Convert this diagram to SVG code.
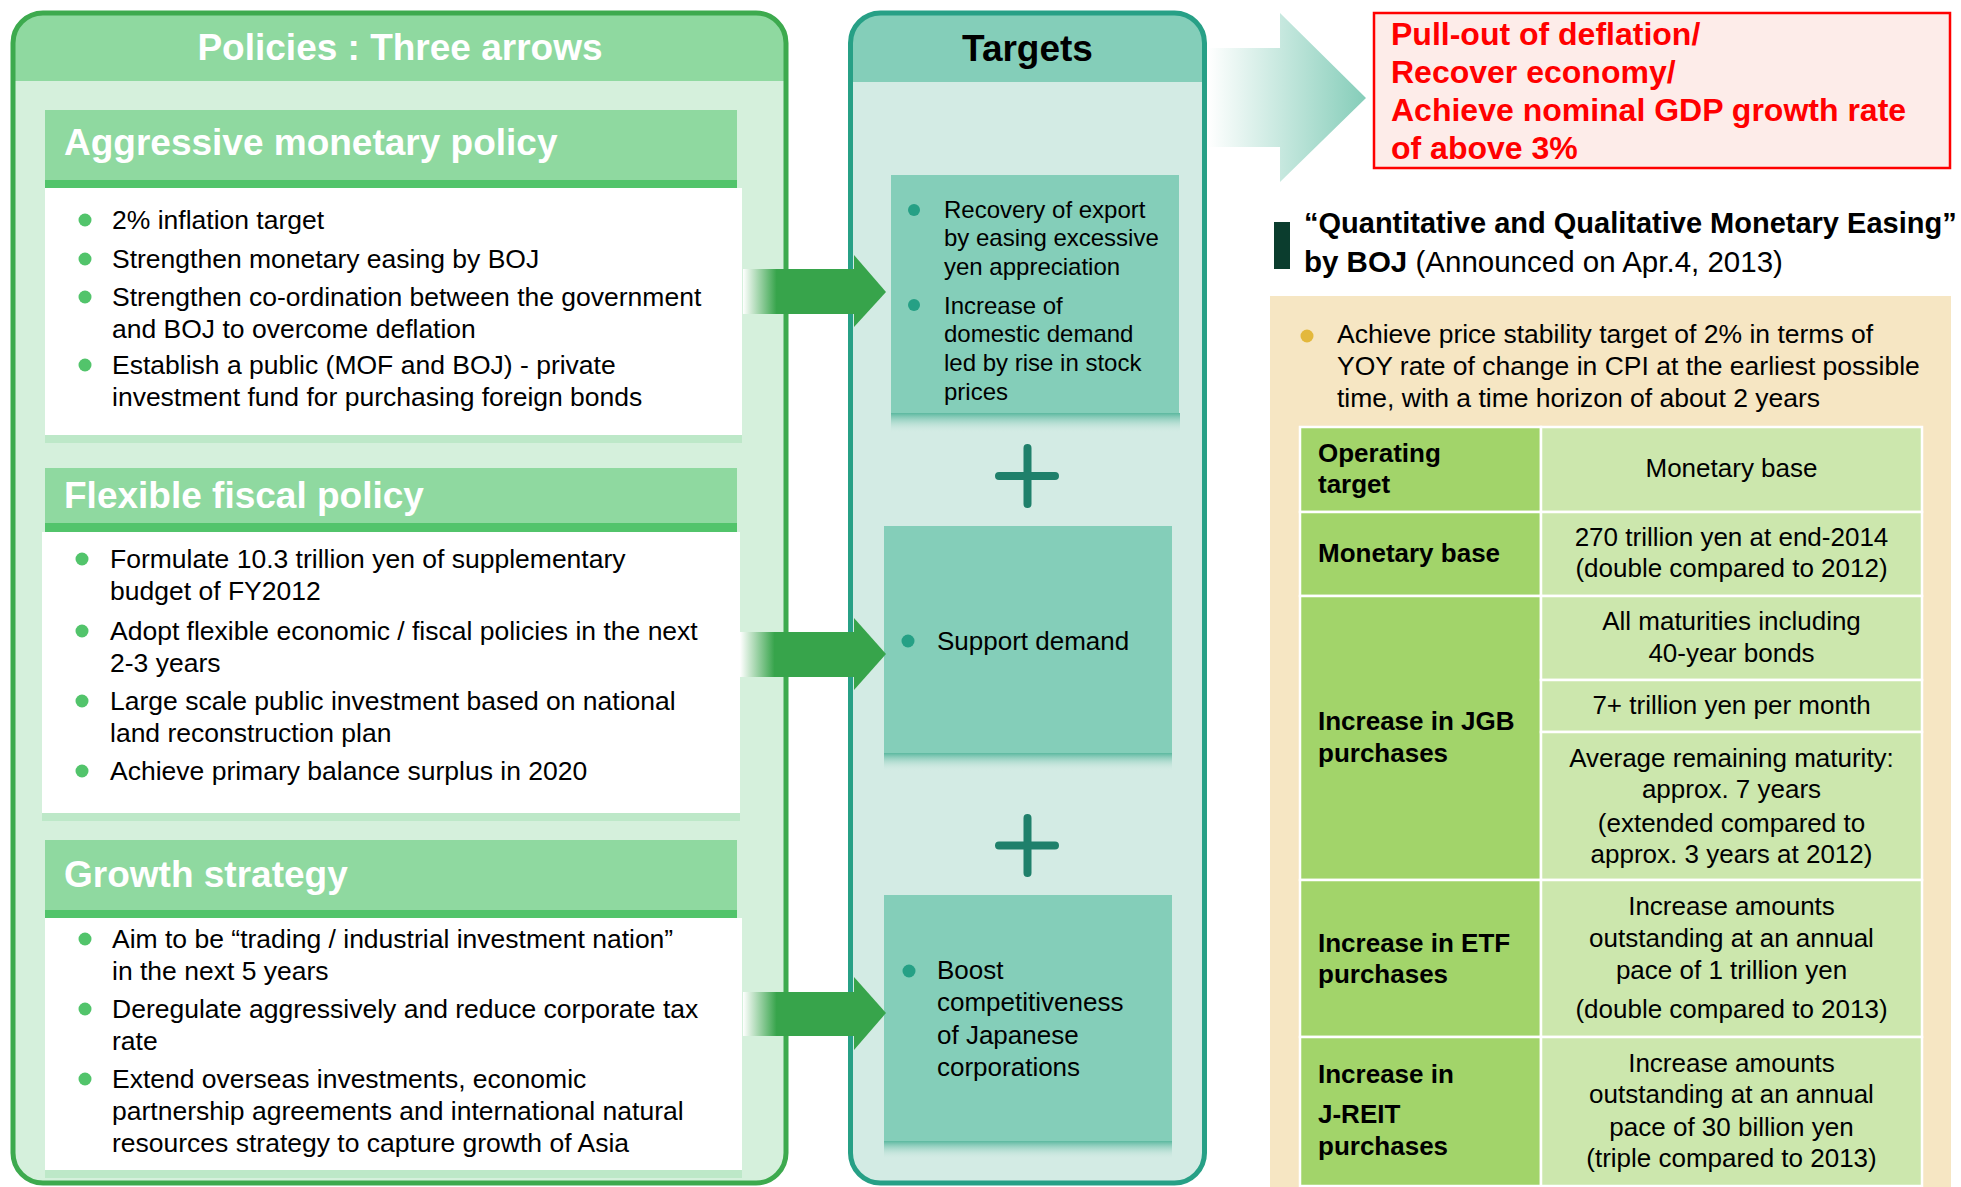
<svg xmlns="http://www.w3.org/2000/svg" width="1961" height="1187" viewBox="0 0 1961 1187">
<style>
text{font-family:"Liberation Sans",Arial,Helvetica,sans-serif;fill:#000}
.b26{font-size:26px}
.b265{font-size:26.5px}
.b24{font-size:24px}
.bold{font-weight:bold}
.hdr{font-size:37px;font-weight:bold;fill:#fff}
.red{font-size:32px;font-weight:bold;fill:#FF0000}
.mid{text-anchor:middle}
.dotg{fill:#52C46B}
.dott{fill:#26A085}
.hband{fill:#8FD9A0}
.hstripe{fill:#52C46B}
.wbox{fill:#fff}
.wstrip{fill:#BDE8C8}
.tbox{fill:#84CEB9}
.plus{stroke:#1F806B;stroke-width:8;stroke-linecap:round;fill:none}
.arr{fill:#37A44B}
.cl{fill:#A2D46A;stroke:#fff;stroke-width:2.5}
.cr{fill:#CCE7AD;stroke:#fff;stroke-width:2.5}
</style>
<defs>
<linearGradient id="fade" x1="0" y1="0" x2="1" y2="0">
<stop offset="0" stop-color="#fff"/>
<stop offset="0.3" stop-color="#37A44B"/>
<stop offset="1" stop-color="#37A44B"/>
</linearGradient>
<linearGradient id="bigfade" gradientUnits="userSpaceOnUse" x1="1208" y1="0" x2="1366" y2="0">
<stop offset="0" stop-color="#fff"/>
<stop offset="1" stop-color="#85CDB9"/>
</linearGradient>
<linearGradient id="shadow" x1="0" y1="0" x2="0" y2="1">
<stop offset="0" stop-color="#5BB89F"/>
<stop offset="1" stop-color="#D3EBE4" stop-opacity="0"/>
</linearGradient>
</defs>
<rect width="1961" height="1187" fill="#fff"/>

<g id="policies-frame">
<rect x="13" y="13" width="773" height="1170" rx="30" fill="#D5F0DC"/>
<path d="M13,81 V43 A30,30 0 0 1 43,13 H756 A30,30 0 0 1 786,43 V81 Z" fill="#8FD9A0"/>
<rect x="13" y="13" width="773" height="1170" rx="30" fill="none" stroke="#3DAA4E" stroke-width="5"/>
<text class="hdr mid" x="400" y="60">Policies : Three arrows</text>
</g>

<g id="monetary-policy">
<rect class="hband" x="45" y="110" width="692" height="70"/>
<rect class="hstripe" x="45" y="180" width="692" height="8"/>
<rect class="wbox" x="45" y="188" width="697" height="247"/>
<rect class="wstrip" x="45" y="435" width="697" height="8"/>
<text class="hdr" x="64" y="155">Aggressive monetary policy</text>
<circle class="dotg" cx="85" cy="220" r="6.5"/>
<circle class="dotg" cx="85" cy="259" r="6.5"/>
<circle class="dotg" cx="85" cy="297" r="6.5"/>
<circle class="dotg" cx="85" cy="365" r="6.5"/>
<text class="b265" x="112" y="229">2% inflation target</text>
<text class="b265" x="112" y="268">Strengthen monetary easing by BOJ</text>
<text class="b265" x="112" y="306">Strengthen co-ordination between the government</text>
<text class="b265" x="112" y="338">and BOJ to overcome deflation</text>
<text class="b265" x="112" y="374">Establish a public (MOF and BOJ) - private</text>
<text class="b265" x="112" y="406">investment fund for purchasing foreign bonds</text>
</g>

<g id="fiscal-policy">
<rect class="hband" x="45" y="468" width="692" height="55"/>
<rect class="hstripe" x="45" y="523" width="692" height="9"/>
<rect class="wbox" x="42" y="532" width="698" height="281"/>
<rect class="wstrip" x="42" y="813" width="698" height="8"/>
<text class="hdr" x="64" y="508">Flexible fiscal policy</text>
<circle class="dotg" cx="82" cy="559" r="6.5"/>
<circle class="dotg" cx="82" cy="631" r="6.5"/>
<circle class="dotg" cx="82" cy="701" r="6.5"/>
<circle class="dotg" cx="82" cy="771" r="6.5"/>
<text class="b265" x="110" y="568">Formulate 10.3 trillion yen of supplementary</text>
<text class="b265" x="110" y="600">budget of FY2012</text>
<text class="b265" x="110" y="640">Adopt flexible economic / fiscal policies in the next</text>
<text class="b265" x="110" y="672">2-3 years</text>
<text class="b265" x="110" y="710">Large scale public investment based on national</text>
<text class="b265" x="110" y="742">land reconstruction plan</text>
<text class="b265" x="110" y="780">Achieve primary balance surplus in 2020</text>
</g>

<g id="growth-strategy">
<rect class="hband" x="45" y="840" width="692" height="70"/>
<rect class="hstripe" x="45" y="910" width="692" height="8"/>
<rect class="wbox" x="45" y="918" width="697" height="252"/>
<rect class="wstrip" x="45" y="1170" width="697" height="8"/>
<text class="hdr" x="64" y="887">Growth strategy</text>
<circle class="dotg" cx="85" cy="939" r="6.5"/>
<circle class="dotg" cx="85" cy="1009" r="6.5"/>
<circle class="dotg" cx="85" cy="1079" r="6.5"/>
<text class="b265" x="112" y="948">Aim to be “trading / industrial investment nation”</text>
<text class="b265" x="112" y="980">in the next 5 years</text>
<text class="b265" x="112" y="1018">Deregulate aggressively and reduce corporate tax</text>
<text class="b265" x="112" y="1050">rate</text>
<text class="b265" x="112" y="1088">Extend overseas investments, economic</text>
<text class="b265" x="112" y="1120">partnership agreements and international natural</text>
<text class="b265" x="112" y="1152">resources strategy to capture growth of Asia</text>
</g>

<g id="targets-frame">
<rect x="850.5" y="13" width="354" height="1170" rx="30" fill="#D3EBE4"/>
<path d="M850.5,82 V43 A30,30 0 0 1 880.5,13 H1174.5 A30,30 0 0 1 1204.5,43 V82 Z" fill="#84CEB9"/>
<rect x="850.5" y="13" width="354" height="1170" rx="30" fill="none" stroke="#27A086" stroke-width="5"/>
<text class="bold mid" x="1027.5" y="61" style="font-size:37px">Targets</text>
</g>

<g id="target-export-demand">
<rect class="tbox" x="891" y="175" width="288" height="238"/>
<rect x="891" y="413" width="289" height="20" fill="url(#shadow)"/>
<circle class="dott" cx="914" cy="210" r="6"/>
<circle class="dott" cx="914" cy="305" r="6"/>
<text class="b24" x="944" y="218">Recovery of export</text>
<text class="b24" x="944" y="246">by easing excessive</text>
<text class="b24" x="944" y="275">yen appreciation</text>
<text class="b24" x="944" y="314">Increase of</text>
<text class="b24" x="944" y="342">domestic demand</text>
<text class="b24" x="944" y="371">led by rise in stock</text>
<text class="b24" x="944" y="400">prices</text>
</g>

<g id="target-support-demand">
<rect class="tbox" x="884" y="526" width="288" height="227"/>
<rect x="884" y="753" width="288" height="18" fill="url(#shadow)"/>
<circle class="dott" cx="908" cy="641" r="6.5"/>
<text class="b26" x="937" y="650">Support demand</text>
</g>

<g id="target-competitiveness">
<rect class="tbox" x="884" y="895" width="288" height="246"/>
<rect x="884" y="1141" width="288" height="18" fill="url(#shadow)"/>
<circle class="dott" cx="909" cy="971" r="6.5"/>
<text class="b26" x="937" y="979">Boost</text>
<text class="b26" x="937" y="1011">competitiveness</text>
<text class="b26" x="937" y="1044">of Japanese</text>
<text class="b26" x="937" y="1076">corporations</text>
</g>

<g id="plus-signs">
<path class="plus" d="M1027.5,448 V504 M999,476 H1055"/>
<path class="plus" d="M1027.5,818 V873 M999,845.5 H1055"/>
</g>

<g id="connectors">
<rect x="743" y="269" width="112" height="45" fill="url(#fade)"/>
<polygon class="arr" points="854,255 886,292 854,327"/>
<rect x="740" y="632" width="115" height="45" fill="url(#fade)"/>
<polygon class="arr" points="854,618 886,654 854,690"/>
<rect x="743" y="992" width="112" height="44" fill="url(#fade)"/>
<polygon class="arr" points="854,977 886,1013 854,1050"/>
<path d="M1208,48 H1280 V13 L1366,98 L1280,182 V147 H1208 Z" fill="url(#bigfade)"/>
</g>

<g id="goal">
<rect x="1374" y="13" width="576" height="155" fill="#FDECE9" stroke="#FF0000" stroke-width="2.5"/>
<text class="red" x="1391" y="45">Pull-out of deflation/</text>
<text class="red" x="1391" y="83">Recover economy/</text>
<text class="red" x="1391" y="121">Achieve nominal GDP growth rate</text>
<text class="red" x="1391" y="159">of above 3%</text>
</g>

<g id="qqe-title">
<rect x="1274" y="222" width="16" height="47" fill="#0B3D2E"/>
<text class="bold" x="1304" y="233" style="font-size:29px">“Quantitative and Qualitative Monetary Easing”</text>
<text x="1304" y="272" style="font-size:29.5px"><tspan font-weight="bold">by BOJ</tspan> (Announced on Apr.4, 2013)</text>
</g>

<g id="qqe-panel">
<rect x="1270" y="296" width="681" height="891" fill="#F6E6C3"/>
<circle cx="1307" cy="336" r="6.5" fill="#E3B83C"/>
<text class="b265" x="1337" y="343">Achieve price stability target of 2% in terms of</text>
<text class="b265" x="1337" y="375">YOY rate of change in CPI at the earliest possible</text>
<text class="b265" x="1337" y="407">time, with a time horizon of about 2 years</text>
</g>

<g id="qqe-table">
<rect class="cl" x="1300" y="427" width="241" height="85"/>
<rect class="cr" x="1541" y="427" width="381" height="85"/>
<rect class="cl" x="1300" y="512" width="241" height="84"/>
<rect class="cr" x="1541" y="512" width="381" height="84"/>
<rect class="cl" x="1300" y="596" width="241" height="284"/>
<rect class="cr" x="1541" y="596" width="381" height="84"/>
<rect class="cr" x="1541" y="680" width="381" height="52"/>
<rect class="cr" x="1541" y="732" width="381" height="148"/>
<rect class="cl" x="1300" y="880" width="241" height="157"/>
<rect class="cr" x="1541" y="880" width="381" height="157"/>
<rect class="cl" x="1300" y="1037" width="241" height="149"/>
<rect class="cr" x="1541" y="1037" width="381" height="149"/>

<text class="b26 bold" x="1318" y="462">Operating</text>
<text class="b26 bold" x="1318" y="493">target</text>
<text class="b26 mid" x="1731.5" y="477">Monetary base</text>

<text class="b26 bold" x="1318" y="562">Monetary base</text>
<text class="b26 mid" x="1731.5" y="546">270 trillion yen at end-2014</text>
<text class="b26 mid" x="1731.5" y="577">(double compared to 2012)</text>

<text class="b26 bold" x="1318" y="730">Increase in JGB</text>
<text class="b26 bold" x="1318" y="762">purchases</text>
<text class="b26 mid" x="1731.5" y="630">All maturities including</text>
<text class="b26 mid" x="1731.5" y="662">40-year bonds</text>
<text class="b26 mid" x="1731.5" y="714">7+ trillion yen per month</text>
<text class="b26 mid" x="1731.5" y="767">Average remaining maturity:</text>
<text class="b26 mid" x="1731.5" y="798">approx. 7 years</text>
<text class="b26 mid" x="1731.5" y="832">(extended compared to</text>
<text class="b26 mid" x="1731.5" y="863">approx. 3 years at 2012)</text>

<text class="b26 bold" x="1318" y="952">Increase in ETF</text>
<text class="b26 bold" x="1318" y="983">purchases</text>
<text class="b26 mid" x="1731.5" y="915">Increase amounts</text>
<text class="b26 mid" x="1731.5" y="947">outstanding at an annual</text>
<text class="b26 mid" x="1731.5" y="979">pace of 1 trillion yen</text>
<text class="b26 mid" x="1731.5" y="1018">(double compared to 2013)</text>

<text class="b26 bold" x="1318" y="1083">Increase in</text>
<text class="b26 bold" x="1318" y="1123">J-REIT</text>
<text class="b26 bold" x="1318" y="1155">purchases</text>
<text class="b26 mid" x="1731.5" y="1072">Increase amounts</text>
<text class="b26 mid" x="1731.5" y="1103">outstanding at an annual</text>
<text class="b26 mid" x="1731.5" y="1136">pace of 30 billion yen</text>
<text class="b26 mid" x="1731.5" y="1167">(triple compared to 2013)</text>
</g>
</svg>
